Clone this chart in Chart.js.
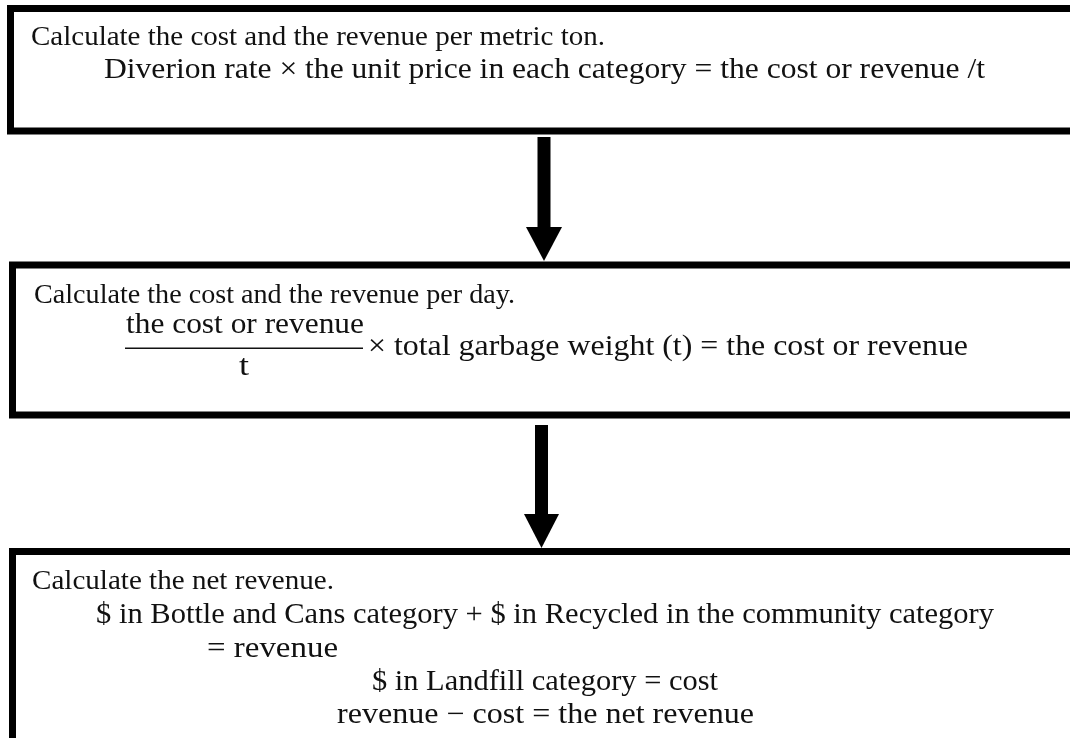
<!DOCTYPE html>
<html>
<head>
<meta charset="utf-8">
<script src="https://cdn.jsdelivr.net/npm/chart.js@4/dist/chart.umd.min.js"></script>
<style>
  html, body { margin: 0; padding: 0; background: #ffffff; }
  #wrap { width: 1070px; height: 738px; }
</style>
</head>
<body>
<div id="wrap"><canvas id="c" width="1070" height="738"></canvas></div>
<script>
// ---- content (text of the flowchart) ----
const stepTitles = [
  "Calculate the cost and the revenue per metric ton.",
  "Calculate the cost and the revenue per day.",
  "Calculate the net revenue."
];
const step1Formula = ["Diverion rate \u00d7 the unit price in each category = the cost or revenue /t"];
const step2Numerator = "the cost or revenue";
const step2Denominator = "t";
const step2Rest = "\u00d7 total garbage weight (t) = the cost or revenue";
const step3Formula = [
  "$ in Bottle and Cans category + $ in Recycled in the community category",
  "= revenue",
  "$ in Landfill category = cost",
  "revenue \u2212 cost = the net revenue"
];

// ---- layout (pixel-space values mapped through the chart scales) ----
const boxes = [
  { l: 10.5, t: 8.5, r: 1080, b: 131 },
  { l: 12.5, t: 265, r: 1080, b: 415 },
  { l: 12.5, t: 551.5, r: 1080, b: 745 }
];
const arrows = [
  { x: 544, top: 137, headTop: 227, tip: 261, half: 18 },
  { x: 541.5, top: 425, headTop: 514, tip: 548, half: 17.5 }
];
// left edge, baseline, target width
const titleLayout = [
  { x: 31, y: 45, w: 574 },
  { x: 34, y: 303, w: 481 },
  { x: 32, y: 589, w: 302 }
];
const formulaLayout = {
  f1: { x: 104, y: 78, w: 881 },
  num: { x: 126, y: 333, w: 238 },
  den: { x: 239, y: 375, w: 10 },
  rest: { x: 368, y: 355, w: 600 },
  f3: [
    { x: 96, y: 623, w: 898 },
    { x: 207, y: 657, w: 131 },
    { x: 372, y: 690, w: 346 },
    { x: 337, y: 723, w: 417 }
  ]
};
const TITLE_FONT = "27px 'Liberation Serif'";
const FORMULA_FONT = "29px 'Liberation Serif'";

function fitText(ctx, X, Y, text, L) {
  const w = ctx.measureText(text).width;
  const x0 = X(L.x), x1 = X(L.x + L.w);
  const sx = (x1 - x0) / w;
  ctx.save();
  ctx.translate(x0, Y(L.y));
  ctx.scale(sx, 1);
  ctx.fillText(text, 0, 0);
  ctx.restore();
}

const flowPlugin = {
  id: 'flow',
  afterDraw(chart) {
    const ctx = chart.ctx;
    const X = v => chart.scales.x.getPixelForValue(v);
    const Y = v => chart.scales.y.getPixelForValue(v);
    ctx.save();
    // boxes
    ctx.strokeStyle = '#000';
    ctx.lineWidth = 7;
    ctx.lineJoin = 'miter';
    boxes.forEach(bx => {
      ctx.strokeRect(X(bx.l), Y(bx.t), X(bx.r) - X(bx.l), Y(bx.b) - Y(bx.t));
    });
    // arrows
    ctx.fillStyle = '#000';
    arrows.forEach(a => {
      ctx.fillRect(X(a.x) - 6.5, Y(a.top), 13, Y(a.headTop) - Y(a.top) + 1);
      ctx.beginPath();
      ctx.moveTo(X(a.x - a.half), Y(a.headTop));
      ctx.lineTo(X(a.x + a.half), Y(a.headTop));
      ctx.lineTo(X(a.x), Y(a.tip));
      ctx.closePath();
      ctx.fill();
    });
    // titles
    ctx.fillStyle = '#111';
    ctx.textBaseline = 'alphabetic';
    ctx.textAlign = 'left';
    ctx.font = TITLE_FONT;
    stepTitles.forEach((s, i) => fitText(ctx, X, Y, s, titleLayout[i]));
    // formulas
    ctx.font = FORMULA_FONT;
    fitText(ctx, X, Y, step1Formula[0], formulaLayout.f1);
    fitText(ctx, X, Y, step2Numerator, formulaLayout.num);
    fitText(ctx, X, Y, step2Denominator, formulaLayout.den);
    ctx.fillRect(X(125), Y(347.5), X(363) - X(125), 1.5);
    fitText(ctx, X, Y, step2Rest, formulaLayout.rest);
    step3Formula.forEach((s, i) => fitText(ctx, X, Y, s, formulaLayout.f3[i]));
    ctx.restore();
  }
};

new Chart(document.getElementById('c'), {
  type: 'scatter',
  data: { datasets: [{ data: [], showLine: false }] },
  options: {
    responsive: false,
    animation: false,
    devicePixelRatio: 1,
    layout: { padding: 0 },
    plugins: { legend: { display: false }, tooltip: { enabled: false } },
    scales: {
      x: { type: 'linear', min: 0, max: 1070, display: false },
      y: { type: 'linear', min: 0, max: 738, reverse: true, display: false }
    }
  },
  plugins: [flowPlugin]
});
</script>
</body>
</html>
